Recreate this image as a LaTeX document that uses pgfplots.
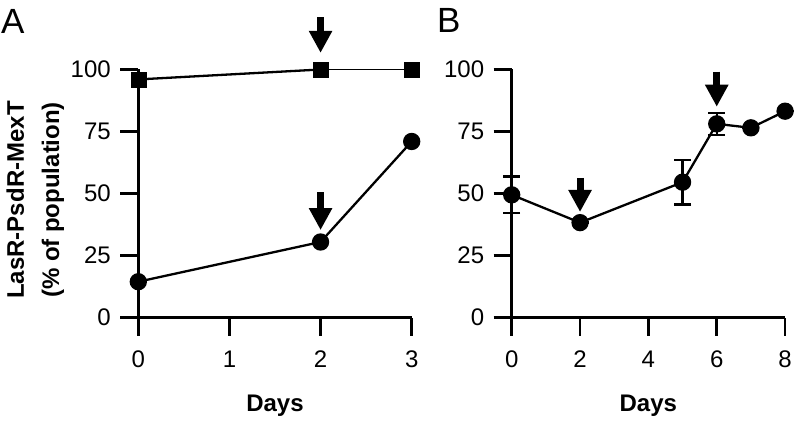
\documentclass[border=0pt]{standalone}
\usepackage{pgfplots}
\pgfplotsset{compat=1.18}
\usetikzlibrary{arrows.meta}
\usepackage{fontspec}
\setmainfont{Liberation Sans}

\pgfplotsset{
  panel/.style={
    scale only axis, width=273.4pt, height=248.2pt,
    ymin=0, ymax=100, ytick={0,25,50,75,100},
    axis x line*=bottom, axis y line*=left,
    axis line style={line width=2.7pt, -},
    tick align=outside, major tick length=18pt,
    major tick style={line width=2.7pt, black},
    tick label style={font=\fontsize{24}{28}\selectfont},
    yticklabel style={xshift=-6pt},
    xticklabel style={yshift=-12pt},
    /pgf/number format/assume math mode=true,
    clip=false,
    anchor=south west,
  }
}
\tikzset{dayarrow/.style={line width=7pt, -{Triangle[width=22pt,length=22pt]}}}

\begin{document}
\begin{tikzpicture}
\path[use as bounding box] (0,0) rectangle (796pt,426pt);

% Panel A
\begin{axis}[panel, at={(138.3pt,108.3pt)}, xmin=0, xmax=3, xtick={0,1,2,3}]
\addplot[black, line width=2.3pt] coordinates {(0,96) (2,100)};
\addplot[black, line width=1.3pt] coordinates {(2,100) (3,100)};
\addplot[black, only marks, mark=square*, mark size=7.5pt] coordinates {(0,96) (2,100) (3,100)};
\addplot[black, line width=2.3pt, mark=*, mark size=7.5pt] coordinates {(0,14.5) (2,30.5) (3,71)};
\draw[dayarrow] (axis cs:2,121) -- (axis cs:2,106.7);
\draw[dayarrow] (axis cs:2,50.6) -- (axis cs:2,35.3);
\end{axis}

% Panel B
\begin{axis}[panel, at={(511.7pt,108.3pt)}, xmin=0, xmax=8, xtick={0,2,4,6,8}]
\addplot[black, line width=2.3pt, mark=*, mark size=7.5pt,
  error bars/.cd, y dir=both, y explicit,
  error mark=|,
  error bar style={line width=2.3pt},
  error mark options={line width=2.3pt, mark size=8.5pt}]
  table[x=x, y=y, y error=e] {
  x y e
  0 49.5 7.4
  2 38.3 0
  5 54.6 9.0
  6 78.1 4.4
  7 76.5 0
  8 83.2 0
  };
\draw[dayarrow] (axis cs:2,56.3) -- (axis cs:2,42.6);
\draw[dayarrow] (axis cs:6,99.1) -- (axis cs:6,85.0);
\end{axis}

% Labels
\node[anchor=base west, inner sep=0pt, font=\fontsize{35}{40}\selectfont] at (1pt,392pt) {A};
\node[anchor=base west, inner sep=0pt, font=\fontsize{35}{40}\selectfont] at (437pt,393pt) {B};
\node[anchor=base, inner sep=0pt, font=\bfseries\fontsize{24}{28}\selectfont] at (275pt,14pt) {Days};
\node[anchor=base, inner sep=0pt, font=\bfseries\fontsize{24}{28}\selectfont] at (648.3pt,14pt) {Days};
\node[anchor=base, inner sep=0pt, rotate=90, font=\bfseries\fontsize{24}{28}\selectfont] at (24pt,226pt) {LasR-PsdR-MexT};
\node[anchor=base, inner sep=0pt, rotate=90, font=\bfseries\fontsize{24}{28}\selectfont] at (59pt,226pt) {(\% of population)};
\end{tikzpicture}
\end{document}
